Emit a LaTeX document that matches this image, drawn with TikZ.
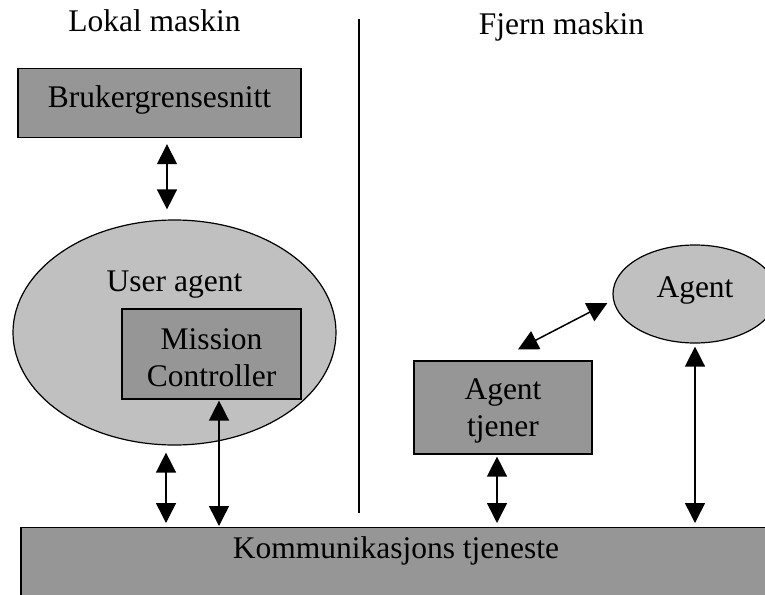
\documentclass[tikz,border=0pt]{standalone}
\usepackage{fontspec}
\setmainfont{Liberation Serif}
\usetikzlibrary{arrows.meta,shapes.geometric,calc}
\definecolor{boxgray}{RGB}{150,150,150}
\definecolor{ellgray}{RGB}{192,192,192}
\tikzset{
  lbl/.style={font=\fontsize{31.5}{37}\selectfont, inner sep=0pt, anchor=base},
  graybox/.style={draw=black, line width=1.2pt, fill=boxgray, inner sep=0pt,
    font=\fontsize{31.5}{37}\selectfont, align=center},
  grayell/.style={ellipse, draw=black, line width=1.2pt, fill=ellgray, inner sep=0pt,
    font=\fontsize{31.5}{37}\selectfont},
  dbl/.style={line width=1.5pt, {Triangle[length=20pt,width=20pt]}-{Triangle[length=20pt,width=20pt]}},
  divider/.style={line width=1.2pt}
}
\begin{document}
\begin{tikzpicture}[x=1pt,y=-1pt]
\useasboundingbox (0,0) rectangle (765,594);
\clip (0,0) rectangle (765,594);
% titles
\node[lbl] (lokal) at (154.5,32) {Lokal maskin};
\node[lbl] (fjern) at (561.5,35) {Fjern maskin};
% divider
\coordinate (dtop) at (359,19);
\coordinate (dbot) at (359,513);
\draw[divider] (dtop) -- (dbot);
% boxes and ellipses
\node[graybox, anchor=north, minimum width=283pt, text height=39pt, text depth=30pt] (bg) at (159.5,68) {Brukergrensesnitt};
\node[grayell, minimum width=323pt, minimum height=225pt] (ua) at (174.5,332.5) {};
\node[lbl] (ualbl) at (174.5,291) {User agent};
\node[graybox, minimum width=179pt, minimum height=90pt] (mc) at (211.5,354) {\rule{0pt}{27.5pt}Mission\\Controller};
\node[graybox, anchor=north, minimum width=750pt, text height=31pt, text depth=70pt] (km) at (396,527) {Kommunikasjons tjeneste};
\node[graybox, minimum width=178pt, minimum height=93pt] (at) at (503,407.5) {\rule{0pt}{27pt}Agent\\tjener};
\node[grayell, minimum width=164pt, minimum height=98pt, text height=21pt, text depth=15pt] (ag) at (695,294) {Agent};
% connectors
\draw[dbl] ($(bg.south)+(7.5,6)$) -- ($(ua.north)+(-7.5,-10)$);
\draw[dbl, shorten >=4pt] ($(ua.south)+(-8.5,7)$) coordinate (s1) -- (s1 |- km.north);
\draw[dbl, shorten >=1pt] ($(mc.south)+(7.5,1)$) coordinate (s2) -- (s2 |- km.north);
\draw[dbl, shorten >=4pt] ($(at.south)+(-6,2)$) coordinate (s3) -- (s3 |- km.north);
\draw[dbl, shorten >=4pt] ($(ag.south)+(0,3)$) coordinate (s4) -- (s4 |- km.north);
\draw[dbl] ($(at.north)+(15,-11)$) -- ($(ag.west)+(-5,9)$);
\end{tikzpicture}
\end{document}
